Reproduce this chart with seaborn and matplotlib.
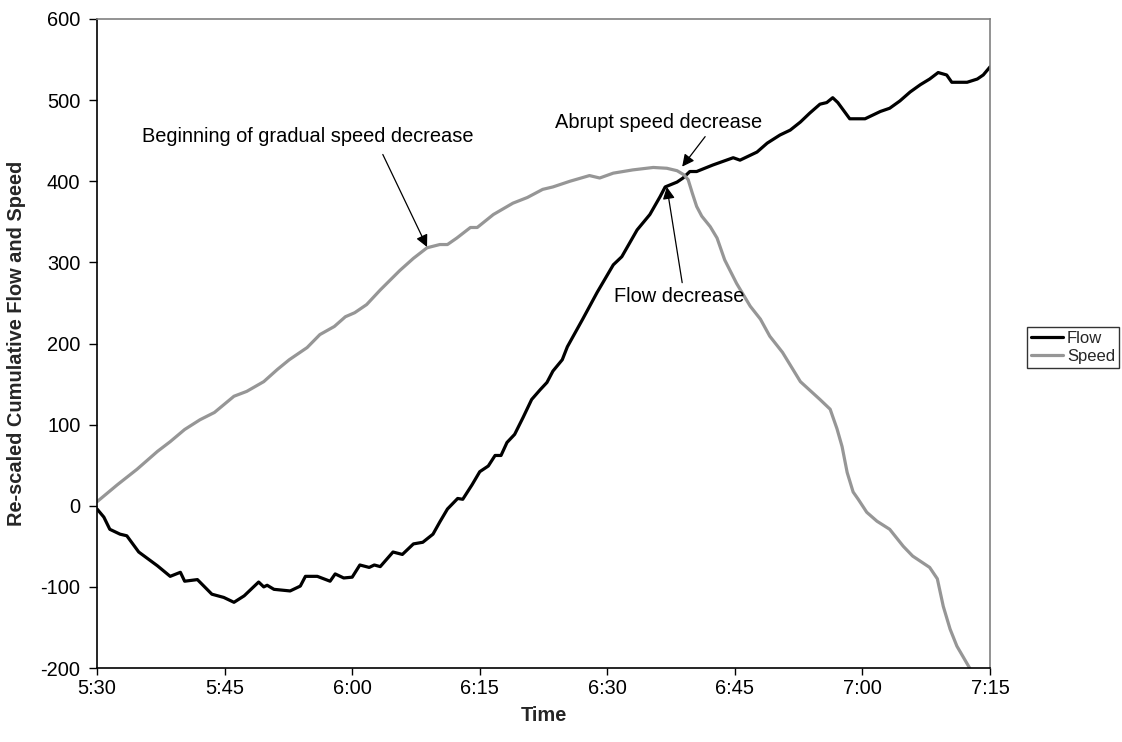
import numpy as np
import pandas as pd
import matplotlib
matplotlib.use("Agg")
import matplotlib.pyplot as plt
import seaborn as sns
from matplotlib.lines import Line2D

# ---- data (minutes after 5:30) ----
flow_minutes = [0.0, 0.8, 1.5, 2.7, 3.5, 4.9, 7.1, 8.6, 9.8, 10.3, 11.8, 13.5, 14.9, 16.1, 17.3,
                19.0, 19.6, 20.0, 20.8, 22.7, 23.9, 24.5, 25.9, 27.4, 28.0, 29.0, 30.0, 30.9,
                32.0, 32.6, 33.3, 34.8, 35.9, 37.2, 38.3, 39.5, 40.3, 41.2, 42.4, 43.0, 44.1,
                45.0, 46.0, 46.8, 47.5, 48.2, 49.1, 50.1, 51.1, 52.1, 52.9, 53.6, 54.7, 55.3,
                57.1, 58.8, 60.7, 61.7, 63.5, 65.0, 66.2, 66.8, 68.2, 68.9, 69.7, 70.5, 72.4,
                74.8, 75.6, 77.6, 78.8, 80.3, 81.5, 82.7, 83.8, 85.0, 85.8, 86.5, 87.1, 88.5,
                90.3, 92.1, 93.2, 94.4, 95.6, 96.8, 97.9, 98.9, 99.9, 100.5, 102.3, 103.5,
                104.2, 105.0]
flow_values = [-4, -14, -29, -35, -37, -57, -74, -87, -82, -93, -91, -109, -113, -119, -111,
               -94, -100, -98, -103, -105, -99, -87, -87, -93, -84, -89, -88, -73,
               -76, -73, -75, -57, -60, -47, -45, -35, -20, -4, 9, 8, 26,
               42, 49, 62, 62, 78, 88, 109, 131, 143, 152, 166, 180, 196,
               230, 263, 297, 307, 340, 359, 381, 393, 399, 404, 412, 412, 420,
               429, 426, 436, 447, 457, 463, 473, 484, 495, 497, 503, 497, 477,
               477, 486, 490, 499, 510, 519, 526, 534, 531, 522, 522, 526,
               531, 541]

speed_minutes = [0.0, 2.4, 4.7, 7.1, 8.6, 10.3, 12.1, 13.8, 16.1, 17.6, 19.6, 21.2, 22.6,
                 24.7, 26.2, 27.9, 29.2, 30.3, 31.7, 33.3, 35.6, 37.2, 38.8, 40.3, 41.2,
                 42.3, 43.9, 44.7, 46.6, 48.9, 50.6, 52.4, 53.6, 55.6, 57.9, 59.1, 60.7,
                 63.0, 65.4, 67.0, 68.2, 69.0, 69.5, 70.0, 70.5, 71.1, 72.1, 72.9, 73.8,
                 75.2, 76.8, 78.0, 79.1, 80.6, 82.7, 85.0, 86.2, 87.0, 87.6, 88.2, 88.9,
                 89.5, 90.5, 91.7, 93.2, 94.8, 95.9, 97.9, 98.8, 99.5, 100.3, 101.1, 102.6,
                 102.9]
speed_values = [5, 26, 45, 67, 79, 94, 106, 115, 135, 141, 153, 168, 180,
                195, 211, 221, 233, 238, 248, 266, 290, 305, 318, 322, 322,
                330, 343, 343, 359, 373, 380, 390, 393, 400, 407, 404, 410,
                414, 417, 416, 413, 408, 402, 385, 369, 357, 344, 330, 303,
                274, 246, 230, 209, 189, 153, 131, 119, 95, 73, 41, 17,
                8, -8, -19, -29, -50, -62, -76, -90, -124, -152, -173, -200,
                -206]

tick_minutes = [0, 15, 30, 45, 60, 75, 90, 105]
tick_labels = ["5:30", "5:45", "6:00", "6:15", "6:30", "6:45", "7:00", "7:15"]
y_ticks = [-200, -100, 0, 100, 200, 300, 400, 500, 600]

df = pd.concat([
    pd.DataFrame({"minute": flow_minutes, "value": flow_values, "series": "Flow"}),
    pd.DataFrame({"minute": speed_minutes, "value": speed_values, "series": "Speed"}),
], ignore_index=True)

sns.set_theme(style="white")
plt.rcParams["font.family"] = ["Liberation Sans", "DejaVu Sans"]

fig = plt.figure(figsize=(11.22, 7.42), dpi=100)
ax = fig.add_axes([0.0865, 0.0997, 0.7959, 0.8747])

sns.lineplot(data=df, x="minute", y="value", hue="series",
             palette={"Flow": "#000000", "Speed": "#969696"},
             estimator=None, sort=True, linewidth=2.3, ax=ax, legend=False)
for ln in ax.get_lines():
    ln.set_solid_joinstyle("round")
    ln.set_solid_capstyle("round")

ax.set_xlim(0, 105)
ax.set_ylim(-200, 600)
ax.set_xticks(tick_minutes)
ax.set_xticklabels(tick_labels)
ax.set_yticks(y_ticks)
ax.set_yticklabels([str(v) for v in y_ticks])
ax.tick_params(axis="x", direction="out", length=5, width=1, colors="black",
               labelsize=14.4, bottom=True, pad=3)
ax.tick_params(axis="y", direction="out", length=6, width=1, colors="black",
               labelsize=14.4, left=True, pad=6)

for side in ["left", "bottom"]:
    ax.spines[side].set_color("black")
    ax.spines[side].set_linewidth(1.2)
for side in ["top", "right"]:
    ax.spines[side].set_color("#808080")
    ax.spines[side].set_linewidth(1.2)

ax.set_xlabel("Time", fontsize=14.4, fontweight="bold", labelpad=6)
ax.set_ylabel("Re-scaled Cumulative Flow and Speed", fontsize=14.4, fontweight="bold", labelpad=10)

arrow_kw = dict(arrowstyle="-|>,head_length=0.6,head_width=0.3", color="black",
                lw=0.9, mutation_scale=12, shrinkA=0, shrinkB=0)
txt_kw = dict(fontsize=14.4, ha="center", va="center", color="black")

ax.text(24.8, 455, "Beginning of gradual speed decrease", **txt_kw)
ax.annotate("", xy=(38.8, 319), xytext=(33.6, 433), arrowprops=arrow_kw)

ax.text(66.0, 472, "Abrupt speed decrease", **txt_kw)
ax.annotate("", xy=(68.8, 418), xytext=(71.5, 455), arrowprops=arrow_kw)

ax.text(68.5, 258, "Flow decrease", **txt_kw)
ax.annotate("", xy=(67.0, 393), xytext=(68.8, 275), arrowprops=arrow_kw)

handles = [Line2D([], [], color="#000000", lw=2.3), Line2D([], [], color="#969696", lw=2.3)]
leg = fig.legend(handles, ["Flow", "Speed"], loc="center left",
                 bbox_to_anchor=(0.9153, 0.5317), fontsize=12, frameon=True,
                 fancybox=False, edgecolor="black", handlelength=1.9,
                 handletextpad=0.25, borderpad=0.25, labelspacing=0.15,
                 borderaxespad=0)
leg.get_frame().set_linewidth(1.0)

fig.savefig("out.png", dpi=100, facecolor="white")
